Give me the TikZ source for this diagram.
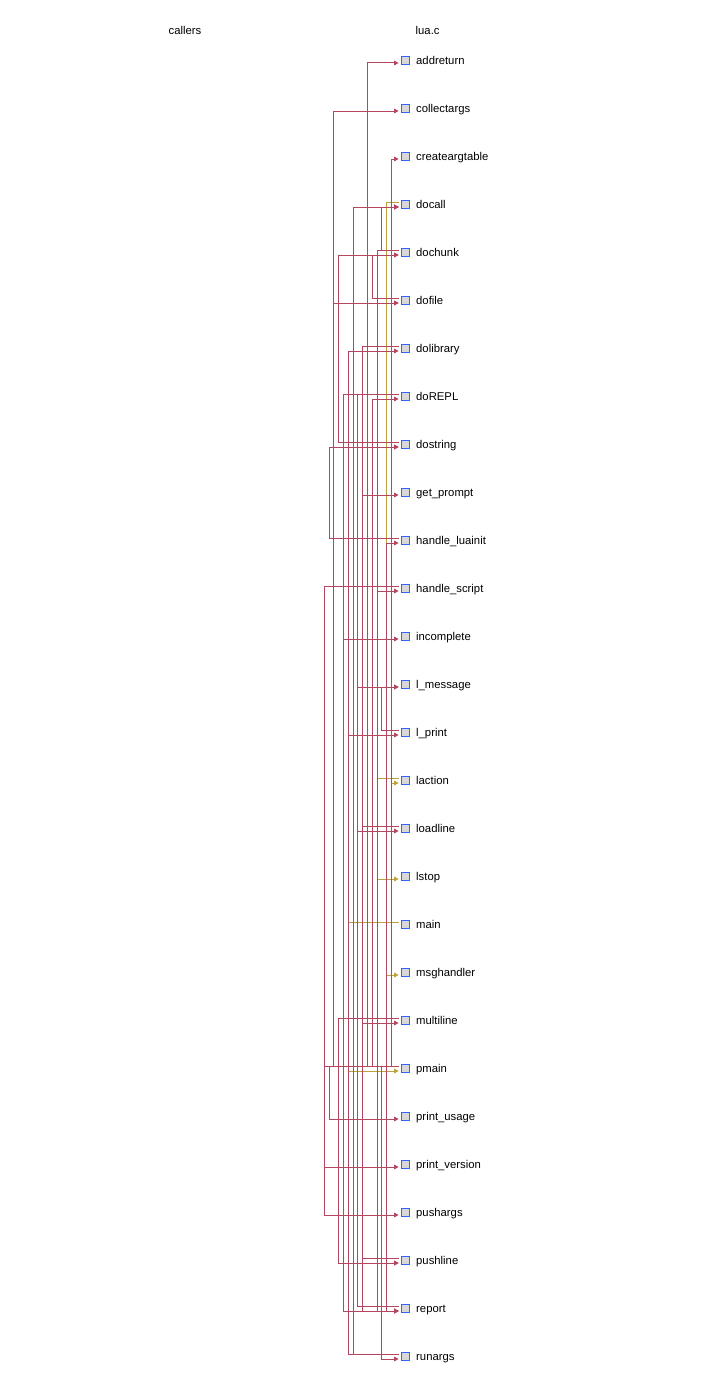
\documentclass[tikz,border=0pt]{standalone}
\usepackage{fontspec}
\setmainfont{Liberation Sans}
\usetikzlibrary{arrows.meta}
\definecolor{edgered}{RGB}{180,70,96}
\definecolor{edgeyel}{RGB}{190,160,60}
\definecolor{boxblue}{RGB}{50,100,255}
\definecolor{boxfill}{RGB}{216,216,216}
\newcommand\redge[3]{\draw[rl] (#1-s) -| (L#3 |- #2-t) -- (#2-t);}
\newcommand\yedge[3]{\draw[yl] (#1-s) -| (L#3 |- #2-t) -- (#2-t);}
\begin{document}
\begin{tikzpicture}[x=1pt,y=-1pt,
  rl/.style={draw=edgered,line width=1pt,-{Triangle[length=4.5pt,width=4.5pt]}},
  yl/.style={draw=edgeyel,line width=1pt,-{Triangle[length=4.5pt,width=4.5pt]}},
  fbox/.style={draw=boxblue,fill=boxfill,line width=0.9pt,minimum size=8.2pt,inner sep=0pt},
  lbl/.style={anchor=base west,inner sep=0pt,font=\fontsize{11.3}{13}\selectfont},
  hdr/.style={anchor=base west,inner sep=0pt,font=\fontsize{11.3}{13}\selectfont}]
\useasboundingbox[fill=white] (0,0) rectangle (720,1389);
\node[hdr] (callers) at (168.5,35) {callers};
\node[hdr] (luac) at (415.5,35) {lua.c};
\foreach \n/\t [count=\i from 0] in {addreturn/addreturn, collectargs/collectargs, createargtable/createargtable, docall/docall, dochunk/dochunk, dofile/dofile, dolibrary/dolibrary, doREPL/doREPL, dostring/dostring, getprompt/get\_prompt, handleluainit/handle\_luainit, handlescript/handle\_script, incomplete/incomplete, lmessage/l\_message, lprint/l\_print, laction/laction, loadline/loadline, lstop/lstop, main/main, msghandler/msghandler, multiline/multiline, pmain/pmain, printusage/print\_usage, printversion/print\_version, pushargs/pushargs, pushline/pushline, report/report, runargs/runargs}
{
  \node[fbox] (\n) at (405.8,{60.7+48*\i}) {};
  \node[lbl] (\n-l) at (416,{64.4+48*\i}) {\t};
  \coordinate (\n-s) at ([xshift=-2.6pt,yshift=2.7pt]\n.west);
  \coordinate (\n-t) at ([xshift=-2.6pt,yshift=-2.3pt]\n.west);
}
\foreach \k in {0,...,14} { \coordinate (L\k) at ({324.3+4.8*\k},0); }
% yellow (indirect) calls, drawn below
\yedge{docall}{msghandler}{13}
\yedge{docall}{laction}{14}
\yedge{laction}{lstop}{11}
\yedge{main}{pmain}{5}
% red calls
\redge{dochunk}{docall}{12}
\redge{dochunk}{report}{11}
\redge{dofile}{dochunk}{10}
\redge{dostring}{dochunk}{3}
\redge{dolibrary}{docall}{9}
\redge{dolibrary}{report}{8}
\redge{pushline}{getprompt}{8}
\redge{multiline}{incomplete}{4}
\redge{multiline}{pushline}{3}
\redge{loadline}{pushline}{8}
\redge{loadline}{addreturn}{9}
\redge{loadline}{multiline}{8}
\redge{lprint}{lmessage}{12}
\redge{doREPL}{loadline}{7}
\redge{doREPL}{docall}{6}
\redge{doREPL}{lprint}{5}
\redge{doREPL}{report}{4}
\redge{handlescript}{pushargs}{0}
\redge{handlescript}{docall}{6}
\redge{handlescript}{report}{13}
\redge{runargs}{dostring}{6}
\redge{runargs}{dolibrary}{5}
\redge{handleluainit}{dostring}{1}
\redge{handleluainit}{dofile}{2}
\redge{pmain}{collectargs}{2}
\redge{pmain}{printusage}{1}
\redge{pmain}{printversion}{0}
\redge{pmain}{createargtable}{14}
\redge{pmain}{handleluainit}{13}
\redge{pmain}{runargs}{12}
\redge{pmain}{handlescript}{11}
\redge{pmain}{doREPL}{10}
\redge{pmain}{dofile}{9}
\redge{report}{lmessage}{7}
\end{tikzpicture}
\end{document}
